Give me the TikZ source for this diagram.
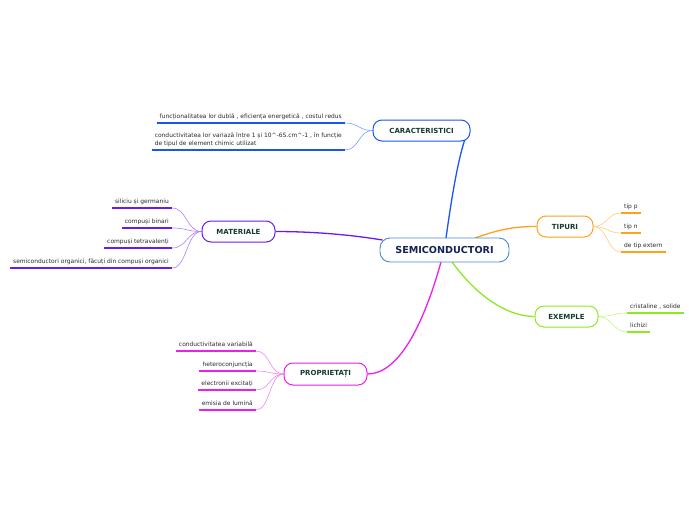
\documentclass[tikz,border=0pt]{standalone}
\usepackage{fontspec}
\setmainfont{DejaVu Sans}
\usetikzlibrary{calc,backgrounds}
\definecolor{cSem}{RGB}{70,140,205}
\definecolor{cCar}{RGB}{25,85,245}
\definecolor{cMat}{RGB}{105,25,245}
\definecolor{cTip}{RGB}{255,160,30}
\definecolor{cExe}{RGB}{140,235,30}
\definecolor{cPro}{RGB}{235,30,235}
\definecolor{cBoxTxt}{RGB}{20,60,50}
\definecolor{cSemTxt}{RGB}{20,35,85}
\definecolor{cLeafTxt}{RGB}{40,40,40}
\tikzset{
  centerbox/.style={draw=cSem, line width=0.9pt, fill=white, rounded corners=10pt,
    minimum width=129pt, minimum height=24pt, inner sep=0pt,
    font=\fontsize{9.6}{11}\selectfont\bfseries, text=cSemTxt},
  branchbox/.style={draw=#1, line width=1pt, fill=white, rounded corners=9pt,
    minimum height=21pt, inner sep=0pt,
    font=\fontsize{7}{8}\selectfont\bfseries, text=cBoxTxt},
  mainlink/.style={draw=#1, line width=1.3pt},
  leaflink/.style={draw=#1!55, line width=0.6pt},
  leaftext/.style={font=\fontsize{5.95}{8}\selectfont, text=cLeafTxt, inner xsep=3pt,
    inner ysep=3.5pt, text height=4.2pt, text depth=1.2pt},
  leafL/.style={leaftext, anchor=south east, append after command={
    \pgfextra{\draw[#1, line width=1.6pt] (\tikzlastnode.south west) -- (\tikzlastnode.south east);}}},
  leafR/.style={leaftext, anchor=south west, append after command={
    \pgfextra{\draw[#1, line width=1.6pt] (\tikzlastnode.south west) -- (\tikzlastnode.south east);}}},
}
\begin{document}
\begin{tikzpicture}[x=1pt,y=-1pt]
\useasboundingbox (0,0) rectangle (696,520);

% central and branch nodes
\node[centerbox] (sem) at (444.5,250) {SEMICONDUCTORI};
\node[branchbox=cCar, minimum width=97pt] (car) at (421.5,130.5) {CARACTERISTICI};
\node[branchbox=cMat, minimum width=73pt] (mat) at (238.5,231.5) {MATERIALE};
\node[branchbox=cTip, minimum width=56pt] (tip) at (565,226.5) {TIPURI};
\node[branchbox=cExe, minimum width=63pt] (exe) at (566.5,316.5) {EXEMPLE};
\node[branchbox=cPro, minimum width=83pt, minimum height=22pt] (pro) at (325.5,374) {PROPRIETAȚI};

% leaves: CARACTERISTICI
\node[leafL=cCar] (c1) at (345,123) {funcționalitatea lor dublă , eficiența energetică , costul redus};
\node[leafL=cCar, align=left] (c2) at (345,150)
  {conductivitatea lor variază între 1 și 10\^{}-6S.cm\^{}-1 , în funcție\\de tipul de element chimic utilizat};

% leaves: MATERIALE
\node[leafL=cMat] (m1) at (172,208) {siliciu și germaniu};
\node[leafL=cMat] (m2) at (172,228) {compuși binari};
\node[leafL=cMat] (m3) at (172,248) {compuși tetravalenți};
\node[leafL=cMat] (m4) at (172,268) {semiconductori organici, făcuți din compuși organici};

% leaves: TIPURI
\node[leafR=cTip] (t1) at (621,213) {tip p};
\node[leafR=cTip] (t2) at (621,233) {tip n};
\node[leafR=cTip] (t3) at (621,252) {de tip extern};

% leaves: EXEMPLE
\node[leafR=cExe] (e1) at (627,313) {cristaline , solide};
\node[leafR=cExe] (e2) at (627,332) {lichizi};

% leaves: PROPRIETATI
\node[leafL=cPro] (p1) at (256,351) {conductivitatea variabilă};
\node[leafL=cPro] (p2) at (256,371) {heteroconjuncția};
\node[leafL=cPro] (p3) at (256,390) {electronii excitați};
\node[leafL=cPro] (p4) at (256,410) {emisia de lumină};

\begin{pgfonlayer}{background}
% main connectors
\draw[mainlink=cCar] ($(sem.center)+(1.5,-12)$) .. controls (452,195) and (458,160) .. ($(car.center)+(43.5,8.5)$);
\draw[mainlink=cMat] ($(sem.center)+(-62,-10)$) .. controls (340,233) and (300,231.5) .. (mat.east);
\draw[mainlink=cTip] ($(sem.center)+(30.5,-12)$) .. controls (500,229) and (515,226.5) .. (tip.west);
\draw[mainlink=cExe] ($(sem.center)+(7.5,12)$) .. controls (480,300) and (510,316.5) .. (exe.west);
\draw[mainlink=cPro] ($(sem.center)+(-3.5,12)$) .. controls (422,330) and (397,374) .. (pro.east);
% leaf connectors
\foreach \l in {c1,c2}
  \draw[leaflink=cCar] (car.west) .. controls +(-14,0) and +(14,0) .. (\l.south east);
\foreach \l in {m1,m2,m3,m4}
  \draw[leaflink=cMat] (mat.west) .. controls +(-15,0) and +(15,0) .. (\l.south east);
\foreach \l in {t1,t2,t3}
  \draw[leaflink=cTip] (tip.east) .. controls +(14,0) and +(-14,0) .. (\l.south west);
\foreach \l in {e1,e2}
  \draw[leaflink=cExe] (exe.east) .. controls +(14,0) and +(-14,0) .. (\l.south west);
\foreach \l in {p1,p2,p3,p4}
  \draw[leaflink=cPro] (pro.west) .. controls +(-14,0) and +(14,0) .. (\l.south east);
\end{pgfonlayer}
\end{tikzpicture}
\end{document}
